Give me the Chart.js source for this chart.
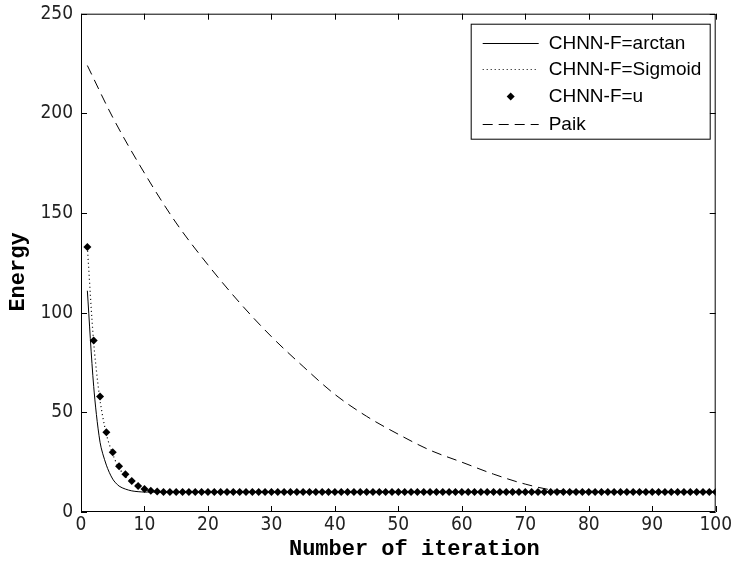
<!DOCTYPE html>
<html>
<head>
<meta charset="utf-8">
<script src="https://cdn.jsdelivr.net/npm/chart.js@4.4.1/dist/chart.umd.min.js"></script>
<style>
  html, body { margin: 0; padding: 0; background: #fff; }
  #wrap { width: 734px; height: 569px; }
</style>
</head>
<body>
<div id="wrap"><canvas id="energyChart" width="734" height="569"></canvas></div>
<script>
// === DATA ===
const iterations = Array.from({ length: 100 }, (_, i) => i + 1);

const arctanEnergy = [
  111, 63, 35, 23.5, 16.5, 13, 11.5, 10.6, 10.2, 10,
  10, 10, 10, 10, 10, 10, 10, 10, 10, 10,
  10, 10, 10, 10, 10, 10, 10, 10, 10, 10,
  10, 10, 10, 10, 10, 10, 10, 10, 10, 10,
  10, 10, 10, 10, 10, 10, 10, 10, 10, 10,
  10, 10, 10, 10, 10, 10, 10, 10, 10, 10,
  10, 10, 10, 10, 10, 10, 10, 10, 10, 10,
  10, 10, 10, 10, 10, 10, 10, 10, 10, 10,
  10, 10, 10, 10, 10, 10, 10, 10, 10, 10,
  10, 10, 10, 10, 10, 10, 10, 10, 10, 10
];

const sigmoidEnergy = [
  133, 85, 56, 39, 29, 22, 18, 15, 12.5, 11.3,
  10.6, 10.2, 10, 10, 10, 10, 10, 10, 10, 10,
  10, 10, 10, 10, 10, 10, 10, 10, 10, 10,
  10, 10, 10, 10, 10, 10, 10, 10, 10, 10,
  10, 10, 10, 10, 10, 10, 10, 10, 10, 10,
  10, 10, 10, 10, 10, 10, 10, 10, 10, 10,
  10, 10, 10, 10, 10, 10, 10, 10, 10, 10,
  10, 10, 10, 10, 10, 10, 10, 10, 10, 10,
  10, 10, 10, 10, 10, 10, 10, 10, 10, 10,
  10, 10, 10, 10, 10, 10, 10, 10, 10, 10
];

const uEnergy = [
  133, 86, 58, 40, 30, 23, 19, 15.5, 13, 11.5,
  10.7, 10.3, 10, 10, 10, 10, 10, 10, 10, 10,
  10, 10, 10, 10, 10, 10, 10, 10, 10, 10,
  10, 10, 10, 10, 10, 10, 10, 10, 10, 10,
  10, 10, 10, 10, 10, 10, 10, 10, 10, 10,
  10, 10, 10, 10, 10, 10, 10, 10, 10, 10,
  10, 10, 10, 10, 10, 10, 10, 10, 10, 10,
  10, 10, 10, 10, 10, 10, 10, 10, 10, 10,
  10, 10, 10, 10, 10, 10, 10, 10, 10, 10,
  10, 10, 10, 10, 10, 10, 10, 10, 10, 10
];

const paikIter = [1, 5, 10, 15, 20, 25, 30, 35, 40, 45, 50, 55, 60, 65, 70, 75, 80, 85, 90, 95, 100];
const paikEnergy = [224, 198, 170, 145, 124, 105, 88, 73, 59, 48, 39, 31, 25, 19, 14, 10.8, 10.4, 10.3, 10.3, 10.3, 10.3];

const xTicks = [0, 10, 20, 30, 40, 50, 60, 70, 80, 90, 100];
const yTicks = [0, 50, 100, 150, 200, 250];

const seriesNames = ["CHNN-F=arctan", "CHNN-F=Sigmoid", "CHNN-F=u", "Paik"];
const xTitle = "Number of iteration";
const yTitle = "Energy";

function toPoints(xs, ys) {
  return xs.map((x, i) => ({ x, y: ys[i] }));
}

// === FRAME + INWARD TICKS (matlab style) ===
const framePlugin = {
  id: "frame",
  afterDatasetsDraw(chart) {
    const { ctx, chartArea: a, scales: { x, y } } = chart;
    const len = 6;
    ctx.save();
    ctx.strokeStyle = "#000";
    ctx.lineWidth = 1;
    ctx.beginPath();
    ctx.rect(a.left + 0.5, a.top + 0.5, a.width - 1, a.height - 1);
    xTicks.forEach(v => {
      const px = Math.round(x.getPixelForValue(v)) + 0.5;
      ctx.moveTo(px, a.bottom);
      ctx.lineTo(px, a.bottom - len);
      ctx.moveTo(px, a.top);
      ctx.lineTo(px, a.top + len);
    });
    yTicks.forEach(v => {
      const py = Math.round(y.getPixelForValue(v)) + 0.5;
      ctx.moveTo(a.left, py);
      ctx.lineTo(a.left + len, py);
      ctx.moveTo(a.right, py);
      ctx.lineTo(a.right - len, py);
    });
    ctx.stroke();

    // axis titles
    ctx.fillStyle = "#000";
    ctx.font = "bold 22px 'Liberation Mono', 'Courier New', monospace";
    ctx.textAlign = "center";
    ctx.textBaseline = "middle";
    ctx.fillText(xTitle, (a.left + a.right) / 2 + 16, 549);
    ctx.translate(18, 272);
    ctx.rotate(-Math.PI / 2);
    ctx.fillText(yTitle, 0, 0);
    ctx.restore();
  }
};

// === LEGEND BOX ===
const legendBoxPlugin = {
  id: "legendBox",
  afterDraw(chart) {
    const { ctx, chartArea: a } = chart;
    const box = { left: a.right - 245, top: a.top + 10, width: 239, height: 115 };
    const rows = [19, 45.5, 72, 100];
    ctx.save();
    ctx.fillStyle = "#fff";
    ctx.fillRect(box.left, box.top, box.width, box.height);
    ctx.strokeStyle = "#000";
    ctx.lineWidth = 1;
    ctx.strokeRect(box.left + 0.5, box.top + 0.5, box.width, box.height);

    chart.data.datasets.forEach((ds, i) => {
      const yy = Math.round(box.top + rows[i]) + 0.5;
      const x0 = box.left + 12;
      const x1 = box.left + 68;
      ctx.strokeStyle = "#000";
      ctx.fillStyle = "#000";
      if (ds.showLine !== false) {
        ctx.setLineDash(ds.borderDash || []);
        ctx.beginPath();
        ctx.moveTo(x0, yy);
        ctx.lineTo(x1, yy);
        ctx.stroke();
        ctx.setLineDash([]);
      } else {
        const cx = (x0 + x1) / 2;
        const r = 4;
        ctx.beginPath();
        ctx.moveTo(cx, yy - r);
        ctx.lineTo(cx + r, yy);
        ctx.lineTo(cx, yy + r);
        ctx.lineTo(cx - r, yy);
        ctx.closePath();
        ctx.fill();
      }
      ctx.font = "19px 'Liberation Sans', Arial, sans-serif";
      ctx.textBaseline = "middle";
      ctx.fillText(ds.label, box.left + 78, yy);
    });
    ctx.restore();
  }
};

const tickFamily = "'Liberation Sans Narrow', 'DejaVu Sans Condensed', 'Liberation Sans', Arial, sans-serif";

new Chart(document.getElementById("energyChart").getContext("2d"), {
  type: "line",
  data: {
    datasets: [
      {
        label: seriesNames[0],
        data: toPoints(iterations, arctanEnergy),
        borderColor: "#000",
        borderWidth: 1,
        pointRadius: 0,
        tension: 0.3
      },
      {
        label: seriesNames[1],
        data: toPoints(iterations, sigmoidEnergy),
        borderColor: "#000",
        borderWidth: 1.2,
        borderDash: [1, 3],
        pointRadius: 0,
        tension: 0.3
      },
      {
        label: seriesNames[2],
        data: toPoints(iterations, uEnergy),
        showLine: false,
        pointStyle: "rectRot",
        pointRadius: 4,
        pointBackgroundColor: "#000",
        pointBorderColor: "#000",
        pointBorderWidth: 0
      },
      {
        label: seriesNames[3],
        data: toPoints(paikIter, paikEnergy),
        borderColor: "#000",
        borderWidth: 1,
        borderDash: [10, 6],
        pointRadius: 0,
        cubicInterpolationMode: "monotone"
      }
    ]
  },
  options: {
    responsive: false,
    animation: false,
    layout: { padding: { top: 12, right: 16, left: 0, bottom: 0 } },
    plugins: {
      legend: { display: false },
      tooltip: { enabled: false }
    },
    scales: {
      x: {
        type: "linear",
        min: 0,
        max: 100,
        afterBuildTicks: scale => { scale.ticks = xTicks.map(v => ({ value: v })); },
        afterFit: scale => { scale.height = 57; },
        grid: { display: false, drawTicks: false },
        border: { display: false },
        ticks: { color: "#222", font: { family: tickFamily, size: 19 }, padding: 2, maxRotation: 0 }
      },
      y: {
        type: "linear",
        min: 0,
        max: 250,
        afterBuildTicks: scale => { scale.ticks = yTicks.map(v => ({ value: v })); },
        afterFit: scale => { scale.width = 81; },
        grid: { display: false, drawTicks: false },
        border: { display: false },
        ticks: { color: "#222", font: { family: tickFamily, size: 19, lineHeight: 0.6 }, padding: 8 }
      }
    }
  },
  plugins: [framePlugin, legendBoxPlugin]
});
</script>
</body>
</html>
